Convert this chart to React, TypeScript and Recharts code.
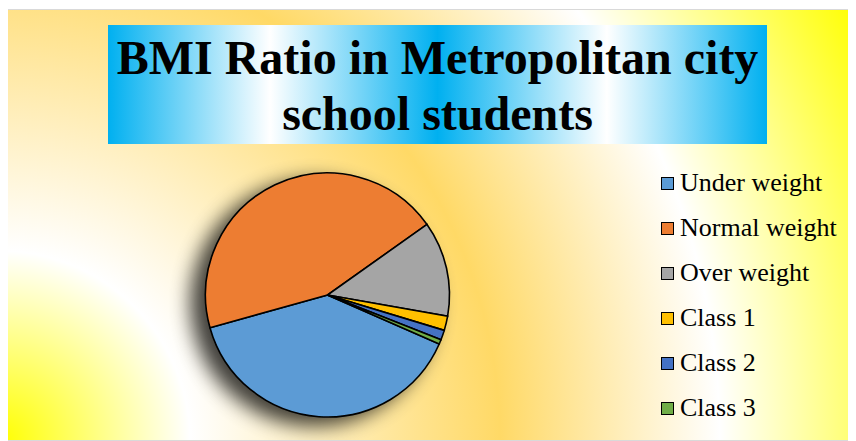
import React from "react";
import { Cell, Legend, Pie, PieChart } from "recharts";

const categories = ["Under weight", "Normal weight", "Over weight", "Class 1", "Class 2", "Class 3"];
const shares = [39.1, 44.5, 12.6, 1.9, 1.3, 0.6];
const colors = ["#5b9bd5", "#ed7d31", "#a5a5a5", "#ffc000", "#4472c4", "#70ad47"];

const data = categories.map((name, i) => ({ name, value: shares[i], fill: colors[i] }));

const serif = "'Liberation Serif', 'Times New Roman', serif";

function LegendList() {
  return (
    <div style={{ fontFamily: serif, fontSize: 26, color: "#000" }}>
      {categories.map((name, i) => (
        <div key={name} style={{ display: "flex", alignItems: "center", height: 45 }}>
          <span
            style={{
              display: "inline-block",
              width: 11,
              height: 11,
              background: colors[i],
              border: "1.5px solid #000",
              marginRight: 6,
              marginTop: 2,
            }}
          />
          <span style={{ whiteSpace: "nowrap" }}>{name}</span>
        </div>
      ))}
    </div>
  );
}

export default function App() {
  return (
    <div
      style={{
        position: "relative",
        boxSizing: "border-box",
        width: 849,
        height: 432,
        marginLeft: -1,
        marginTop: 1,
        border: "1px solid #d9d9d9",
        overflow: "hidden",
        background:
          "radial-gradient(circle 960px at -8px 431px, #ffff00 0px, #ffffff 190px, #ffd966 500px, #ffffff 720px, #ffff00 960px)",
      }}
    >
      <style>{"body{overflow:hidden}"}</style>
      <svg width={0} height={0} style={{ position: "absolute" }}>
        <defs>
          <filter id="pieShadow" x="-40%" y="-40%" width="180%" height="180%">
            <feGaussianBlur in="SourceAlpha" stdDeviation="10" />
            <feOffset dx="-14" dy="8" result="blur" />
            <feComponentTransfer>
              <feFuncA type="linear" slope="0.75" />
            </feComponentTransfer>
            <feMerge>
              <feMergeNode />
              <feMergeNode in="SourceGraphic" />
            </feMerge>
          </filter>
        </defs>
      </svg>
      <style>{".recharts-pie{filter:url(#pieShadow)}"}</style>

      <div
        style={{
          position: "absolute",
          left: 100,
          top: 15,
          width: 659,
          height: 119,
          boxSizing: "border-box",
          paddingTop: 5,
          background:
            "linear-gradient(to right, #00b0f0 0%, #ffffff 24.6%, #00b0f0 50%, #ffffff 75.7%, #00b0f0 100%)",
          fontFamily: serif,
          fontWeight: "bold",
          fontSize: 48,
          lineHeight: "56px",
          textAlign: "center",
          color: "#000",
        }}
      >
        BMI Ratio in Metropolitan city
        <br />
        school students
      </div>

      <div style={{ position: "absolute", left: 0, top: 0 }}>
        <PieChart width={847} height={430} margin={{ top: 0, right: 0, bottom: 0, left: 0 }}>
          <Pie
            data={data}
            dataKey="value"
            nameKey="name"
            cx={319.5}
            cy={285}
            outerRadius={122}
            startAngle={-23.7}
            endAngle={-383.7}
            stroke="#000"
            strokeWidth={1.6}
            isAnimationActive={false}
          >
            {data.map((d) => (
              <Cell key={d.name} fill={d.fill} />
            ))}
          </Pie>
          <Legend
            layout="vertical"
            content={() => <LegendList />}
            wrapperStyle={{ position: "absolute", left: 653, top: 150, width: 200 }}
          />
        </PieChart>
      </div>
    </div>
  );
}
